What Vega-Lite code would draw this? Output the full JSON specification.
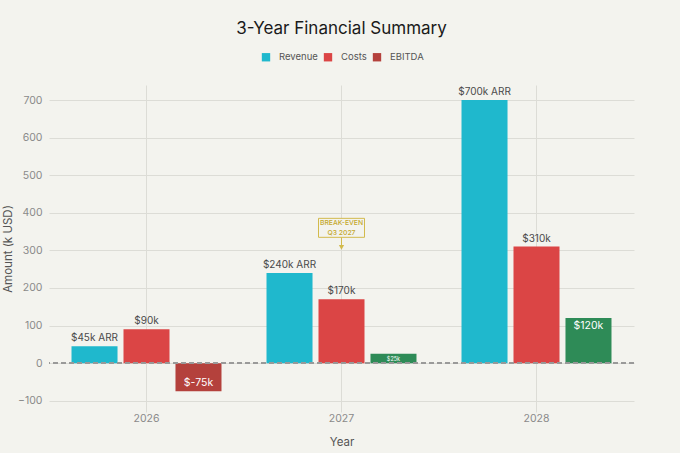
{
  "$schema": "https://vega.github.io/schema/vega-lite/v6.json",
  "autosize": "none",
  "width": 585,
  "height": 327,
  "padding": {"left": 49, "top": 85, "right": 46, "bottom": 41},
  "background": "#F3F3EE",
  "config": {
    "font": "Inter",
    "view": {"stroke": null},
    "axis": {
      "labelColor": "#8a8a8a",
      "labelFontSize": 10.5,
      "titleColor": "#555555",
      "titleFontSize": 11.5,
      "titleFontWeight": "normal",
      "gridColor": "#dcdcd6",
      "gridWidth": 1,
      "domain": false,
      "ticks": false
    }
  },
  "title": {
    "text": "3-Year Financial Summary",
    "fontSize": 17,
    "fontWeight": "normal",
    "color": "#1a1a1a",
    "anchor": "middle",
    "offset": 14
  },
  "datasets": {
    "bars": [
      {"year": "2026", "series": "Revenue", "value": 45, "label": "$45k ARR"},
      {"year": "2026", "series": "Costs", "value": 90, "label": "$90k"},
      {"year": "2026", "series": "EBITDA", "value": -75, "label": "$-75k"},
      {"year": "2027", "series": "Revenue", "value": 240, "label": "$240k ARR"},
      {"year": "2027", "series": "Costs", "value": 170, "label": "$170k"},
      {"year": "2027", "series": "EBITDA", "value": 25, "label": "$25k"},
      {"year": "2028", "series": "Revenue", "value": 700, "label": "$700k ARR"},
      {"year": "2028", "series": "Costs", "value": 310, "label": "$310k"},
      {"year": "2028", "series": "EBITDA", "value": 120, "label": "$120k"}
    ],
    "note": [
      {"year": "2027", "text": "BREAK-EVEN\nQ3 2027", "mid": 360, "top": 335, "tip": 308}
    ]
  },
  "encoding": {
    "x": {
      "field": "year",
      "type": "nominal",
      "title": "Year",
      "scale": {"paddingInner": 0, "paddingOuter": 0},
      "axis": {"labelAngle": 0, "grid": true, "bandPosition": 0.5, "labelPadding": 1, "titlePadding": 13}
    }
  },
  "layer": [
    {
      "data": {"name": "bars"},
      "mark": {"type": "bar"},
      "encoding": {
        "xOffset": {
          "field": "series",
          "type": "nominal",
          "sort": ["Revenue", "Costs", "EBITDA"],
          "scale": {"domain": ["Revenue", "Costs", "EBITDA"], "paddingInner": 0.115, "paddingOuter": 0.433}
        },
        "y": {
          "field": "value",
          "type": "quantitative",
          "title": "Amount (k USD)",
          "scale": {"domain": [-130, 740], "nice": false, "zero": false},
          "axis": {"values": [-100, 0, 100, 200, 300, 400, 500, 600, 700], "labelPadding": 7, "titlePadding": 4}
        },
        "color": {
          "condition": {"test": "datum.series === 'EBITDA' && datum.value > 0", "value": "#2E8B57"},
          "field": "series",
          "type": "nominal",
          "sort": ["Revenue", "Costs", "EBITDA"],
          "scale": {"domain": ["Revenue", "Costs", "EBITDA"], "range": ["#1FB8CD", "#DB4545", "#B4413C"]},
          "legend": {
            "title": null,
            "orient": "none",
            "direction": "horizontal",
            "legendX": 212,
            "legendY": -33,
            "symbolType": "square",
            "symbolSize": 70,
            "labelFontSize": 9.5,
            "labelColor": "#555555",
            "labelOffset": 8,
            "columnPadding": 5,
            "symbolOffset": 0
          }
        }
      }
    },
    {
      "data": {"name": "bars"},
      "mark": {"type": "rule", "color": "#9a9a9a", "strokeDash": [5, 3], "strokeWidth": 1},
      "encoding": {"x": null, "y": {"datum": 0, "type": "quantitative"}}
    },
    {
      "data": {"name": "bars"},
      "transform": [{"filter": "datum.series !== 'EBITDA'"}],
      "mark": {"type": "text", "baseline": "bottom", "dy": -3, "fontSize": 10, "color": "#4a4a4a"},
      "encoding": {
        "xOffset": {"field": "series", "type": "nominal"},
        "y": {"field": "value", "type": "quantitative"},
        "text": {"field": "label"}
      }
    },
    {
      "data": {"name": "bars"},
      "transform": [{"filter": "datum.series === 'EBITDA' && datum.value > 0"}],
      "mark": {"type": "text", "baseline": "top", "dy": 3, "color": "#ffffff"},
      "encoding": {
        "xOffset": {"field": "series", "type": "nominal"},
        "y": {"field": "value", "type": "quantitative"},
        "text": {"field": "label"},
        "size": {"condition": {"test": "datum.value < 50", "value": 5.5}, "value": 10.5}
      }
    },
    {
      "data": {"name": "bars"},
      "transform": [{"filter": "datum.series === 'EBITDA' && datum.value < 0"}],
      "mark": {"type": "text", "baseline": "bottom", "dy": -3, "fontSize": 10.5, "color": "#ffffff"},
      "encoding": {
        "xOffset": {"field": "series", "type": "nominal"},
        "y": {"field": "value", "type": "quantitative"},
        "text": {"field": "label"}
      }
    },
    {
      "data": {"name": "note"},
      "mark": {"type": "rule", "color": "#D2BA4C", "strokeWidth": 1},
      "encoding": {
        "y": {"field": "top", "type": "quantitative"},
        "y2": {"field": "tip"}
      }
    },
    {
      "data": {"name": "note"},
      "mark": {"type": "point", "shape": "triangle-down", "filled": true, "color": "#D2BA4C", "size": 28, "opacity": 1},
      "encoding": {
        "y": {"field": "tip", "type": "quantitative"}
      }
    },
    {
      "data": {"name": "note"},
      "mark": {"type": "point", "shape": "M-1,-0.413H1V0.413H-1Z", "size": 2116, "filled": true, "fill": "#F3F3EE", "stroke": "#D2BA4C", "strokeWidth": 1, "opacity": 1, "fillOpacity": 1},
      "encoding": {
        "y": {"field": "mid", "type": "quantitative"}
      }
    },
    {
      "data": {"name": "note"},
      "mark": {"type": "text", "lineBreak": "\n", "fontSize": 6.8, "lineHeight": 10, "baseline": "middle", "dy": -5, "color": "#C4A82C", "fontWeight": 500},
      "encoding": {
        "y": {"field": "mid", "type": "quantitative"},
        "text": {"field": "text"}
      }
    }
  ]
}
